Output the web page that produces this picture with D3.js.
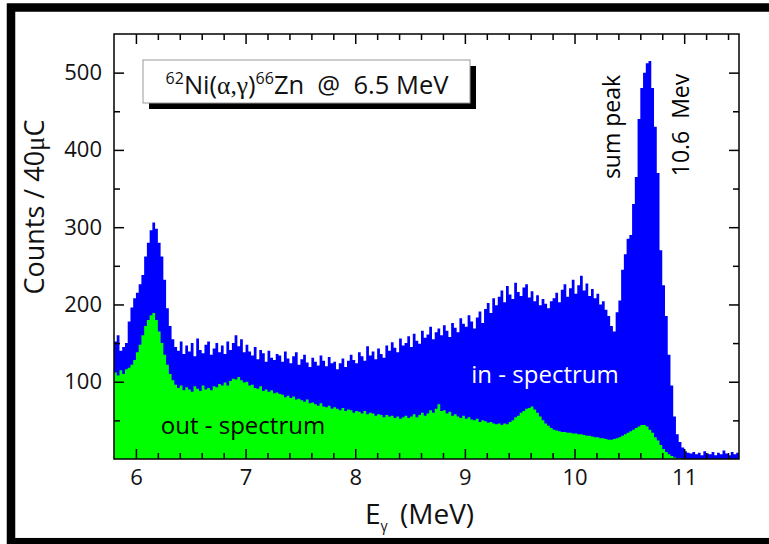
<!DOCTYPE html>
<html><head><meta charset="utf-8">
<script src="https://cdn.jsdelivr.net/npm/d3@7"></script>
<style>body{margin:0;background:#fff} svg{display:block} text{font-family:"Open Sans",sans-serif}</style>
</head><body><svg id="c" width="769" height="544"></svg>
<script>
// histogram binning (MeV)
const binStart = 5.8;
const binWidth = 0.025;
// in-spectrum counts per bin (blue)
const inSpectrum = [
152,160,140,145,150,178,196,208,215,226,238,262,280,296,306,298,280,262,232,195,
172,155,145,140,152,136,147,139,150,133,156,141,137,148,152,135,143,150,138,147,
136,152,141,150,160,146,155,138,148,139,134,145,129,141,137,126,140,131,128,136,
134,126,139,130,124,133,138,122,129,135,125,119,131,126,121,134,127,120,132,124,
126,116,124,130,119,127,135,128,124,138,133,127,146,134,139,129,143,136,131,147,
140,151,144,138,156,147,150,159,145,162,153,149,166,157,161,171,155,164,169,160,
173,166,158,176,170,164,182,175,171,186,178,169,183,191,176,194,202,189,208,199,
210,218,203,224,213,207,228,216,211,222,226,209,217,204,212,199,207,201,195,204,
208,215,203,219,226,210,221,232,214,225,237,218,227,211,220,208,214,200,204,193,
185,172,165,190,205,245,265,285,290,330,365,440,480,500,512,515,480,430,370,270,
225,185,135,95,55,32,22,15,10,8,7,9,6,8,5,10,7,6,9,5,
8,6,11,7,5,9,6,8
];
// out-spectrum counts per bin (green)
const outSpectrum = [
112,108,115,110,116,118,122,128,138,148,160,172,180,186,189,180,165,150,135,122,
110,102,96,92,95,89,93,90,87,94,91,88,95,90,92,89,94,93,97,95,
99,95,101,104,103,106,102,99,100,95,96,92,91,94,88,90,87,89,85,86,
84,83,80,82,79,81,77,78,76,74,77,72,73,71,69,72,68,67,69,65,
67,65,63,66,62,64,63,60,62,61,59,62,58,60,59,56,58,57,54,57,
55,56,53,55,52,54,56,53,55,58,54,57,60,56,59,63,60,65,71,62,
63,59,61,56,58,55,53,56,52,54,51,50,52,48,50,49,47,48,46,45,
46,44,46,45,48,50,54,56,60,62,65,66,68,64,60,55,50,46,43,40,
38,37,36,35,35,34,34,33,33,32,32,31,30,30,29,28,28,27,27,26,
25,25,26,27,28,30,32,34,36,38,40,42,44,44,42,38,34,28,24,18,
13,9,6,4,2,1,1,0,0,0,0,0,0,0,0,0,0,0,0,0,
0,0,0,0,0,0,0,0
];
const xTicks = [6, 7, 8, 9, 10, 11];
const xMinorTicks = [6.2,6.4,6.6,6.8,7.2,7.4,7.6,7.8,8.2,8.4,8.6,8.8,9.2,9.4,9.6,9.8,10.2,10.4,10.6,10.8,11.2,11.4];
const yTicks = [100, 200, 300, 400, 500];
const yMinorTicks = [50, 150, 250, 350, 450];

const svg = d3.select("#c");
const L = 114, R = 739, T = 34, B = 459;
const x = d3.scaleLinear().domain([5.8, 11.5]).range([L, R]);
const y = d3.scaleLinear().domain([0, 550]).range([B, T]);

svg.append("rect").attr("width", 769).attr("height", 544).attr("fill", "#fff");
// outer frame
svg.append("rect").attr("x", 11).attr("y", 7.5).attr("width", 800).attr("height", 534.7)
  .attr("fill", "none").attr("stroke", "#000").attr("stroke-width", 8.5);

svg.append("clipPath").attr("id", "pc").append("rect")
  .attr("x", L).attr("y", T).attr("width", R - L).attr("height", B - T);

function toPts(arr) {
  const pts = arr.map((v, i) => ({ e: binStart + i * binWidth, v }));
  pts.push({ e: binStart + arr.length * binWidth, v: arr[arr.length - 1] });
  return pts;
}
const area = d3.area().x(d => x(d.e)).y0(y(0)).y1(d => y(d.v)).curve(d3.curveStepAfter);
const g = svg.append("g").attr("clip-path", "url(#pc)");
g.append("path").datum(toPts(inSpectrum)).attr("d", area).attr("fill", "#0000ff");
g.append("path").datum(toPts(outSpectrum)).attr("d", area).attr("fill", "#00ff00");

// labels inside plot
svg.append("text").attr("x", 545).attr("y", 383).attr("text-anchor", "middle")
  .attr("font-size", 24).attr("fill", "#fff").text("in - spectrum");
svg.append("text").attr("x", 243).attr("y", 434).attr("text-anchor", "middle")
  .attr("font-size", 24).attr("fill", "#000").text("out - spectrum");
svg.append("text").attr("transform", "translate(620,127) rotate(-90)").attr("text-anchor", "middle")
  .attr("font-size", 23).attr("fill", "#000").text("sum peak");
svg.append("text").attr("transform", "translate(689,125) rotate(-90)").attr("text-anchor", "middle")
  .attr("font-size", 23).attr("fill", "#000").style("white-space", "pre").text("10.6  Mev");

// axes
function styleAxis(sel) {
  sel.selectAll(".domain").remove();
  sel.selectAll("line").attr("stroke", "#000").attr("stroke-width", 1.5);
  sel.selectAll("text").attr("font-size", 22).attr("fill", "#111").attr("font-family", "Open Sans");
}
svg.append("g").attr("transform", `translate(0,${B})`)
  .call(d3.axisBottom(x).tickValues(xTicks).tickSize(-10).tickPadding(10).tickFormat(d3.format("d"))).call(styleAxis);
svg.append("g").attr("transform", `translate(0,${B})`)
  .call(d3.axisBottom(x).tickValues(xMinorTicks).tickSize(-6).tickFormat("")).call(styleAxis);
svg.append("g").attr("transform", `translate(0,${T})`)
  .call(d3.axisTop(x).tickValues(xTicks).tickSize(-10).tickFormat("")).call(styleAxis);
svg.append("g").attr("transform", `translate(0,${T})`)
  .call(d3.axisTop(x).tickValues(xMinorTicks).tickSize(-6).tickFormat("")).call(styleAxis);
svg.append("g").attr("transform", `translate(${L},0)`)
  .call(d3.axisLeft(y).tickValues(yTicks).tickSize(-10).tickPadding(12)).call(styleAxis);
svg.append("g").attr("transform", `translate(${L},0)`)
  .call(d3.axisLeft(y).tickValues(yMinorTicks).tickSize(-6).tickFormat("")).call(styleAxis);
svg.append("g").attr("transform", `translate(${R},0)`)
  .call(d3.axisRight(y).tickValues(yTicks).tickSize(-10).tickFormat("")).call(styleAxis);
svg.append("g").attr("transform", `translate(${R},0)`)
  .call(d3.axisRight(y).tickValues(yMinorTicks).tickSize(-6).tickFormat("")).call(styleAxis);
svg.append("rect").attr("x", L).attr("y", T).attr("width", R - L).attr("height", B - T)
  .attr("fill", "none").attr("stroke", "#000").attr("stroke-width", 1.5);

// title box
svg.append("rect").attr("x", 149).attr("y", 66).attr("width", 327).attr("height", 43).attr("fill", "#000");
svg.append("rect").attr("x", 143).attr("y", 60).attr("width", 327).attr("height", 43)
  .attr("fill", "#fff").attr("stroke", "#999").attr("stroke-width", 1);
const tt = svg.append("text").attr("x", 307).attr("y", 94).attr("text-anchor", "middle")
  .attr("font-size", 25.5).attr("fill", "#111").style("white-space", "pre");
tt.append("tspan").attr("font-size", 16).attr("dy", -10).text("62");
tt.append("tspan").attr("dy", 10).text("Ni(");
tt.append("tspan").attr("font-family", "Liberation Serif").text("\u03b1,\u03b3");
tt.append("tspan").text(")");
tt.append("tspan").attr("font-size", 16).attr("dy", -10).text("66");
tt.append("tspan").attr("dy", 10).text("Zn  @  6.5 MeV");

// axis titles
const yt = svg.append("text").attr("transform", "translate(44,207) rotate(-90)").attr("text-anchor", "middle")
  .attr("font-size", 27).attr("fill", "#111");
yt.append("tspan").text("Counts / 40");
yt.append("tspan").attr("font-family", "Liberation Serif").text("\u03bc");
yt.append("tspan").text("C");

const xt = svg.append("text").attr("x", 365).attr("y", 524).attr("font-size", 28).attr("fill", "#111");
xt.append("tspan").text("E");
xt.append("tspan").attr("font-size", 14).attr("dy", 7).text("\u03b3");
xt.append("tspan").attr("x", 400).attr("dy", -7).text("(MeV)");
</script>
</body></html>
